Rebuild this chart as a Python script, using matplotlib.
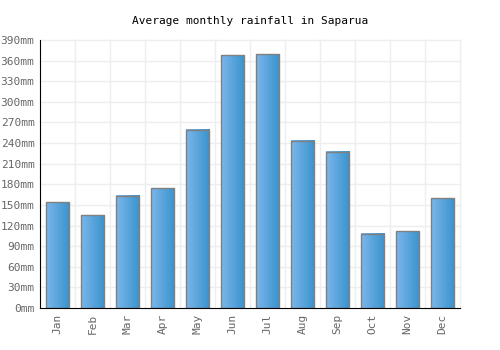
import matplotlib
matplotlib.use("Agg")
import matplotlib.pyplot as plt
import numpy as np
from matplotlib.colors import LinearSegmentedColormap

months = ["Jan", "Feb", "Mar", "Apr", "May", "Jun", "Jul", "Aug", "Sep", "Oct", "Nov", "Dec"]
rainfall = [154, 135, 163, 174, 259, 368, 369, 243, 227, 108, 112, 160]
yticks = list(range(0, 391, 30))

plt.rcParams['font.family'] = ['DejaVu Sans Mono']

fig = plt.figure(figsize=(5, 3.5), dpi=100)
ax = fig.add_axes([0.08, 0.12, 0.84, 0.766])

x = np.arange(len(months))
bars = ax.bar(x, rainfall, width=0.66, color="none", edgecolor="#808080", linewidth=1, zorder=3)

# horizontal gradient for every bar
cmap = LinearSegmentedColormap.from_list("blu", ["#7bb6ea", "#3993cd"])
grad = np.linspace(0, 1, 64).reshape(1, -1)
for b in bars:
    x0, w, h = b.get_x(), b.get_width(), b.get_height()
    ax.imshow(grad, cmap=cmap, aspect="auto", extent=[x0, x0 + w, 0, h], zorder=2, interpolation="bilinear")

ax.set_xlim(-0.5, len(months) - 0.5)
ax.set_ylim(0, 390)
ax.set_yticks(yticks)
ax.set_yticklabels([f"{v}mm" for v in yticks], fontsize=8, color="#666666")
ax.set_xticks(x)
ax.set_xticklabels(months, rotation=90, fontsize=8, color="#666666")
ax.tick_params(length=0, pad=4)

# grid: horizontal at ticks, vertical between categories
for v in yticks[1:]:
    ax.axhline(v, color="#eeeeee", linewidth=1, zorder=0, clip_on=False)
for b in np.arange(-0.5, len(months) + 0.5, 1.0)[1:]:
    ax.axvline(b, color="#eeeeee", linewidth=1, zorder=0, clip_on=False)

for s in ["top", "right"]:
    ax.spines[s].set_visible(False)
ax.spines["left"].set_color("black")
ax.spines["bottom"].set_color("black")
ax.spines["left"].set_zorder(4)
ax.spines["bottom"].set_zorder(4)

fig.text(0.5, 0.94, "Average monthly rainfall in Saparua", ha="center", va="center", fontsize=8, color="black")

fig.savefig("out.png", dpi=100)
